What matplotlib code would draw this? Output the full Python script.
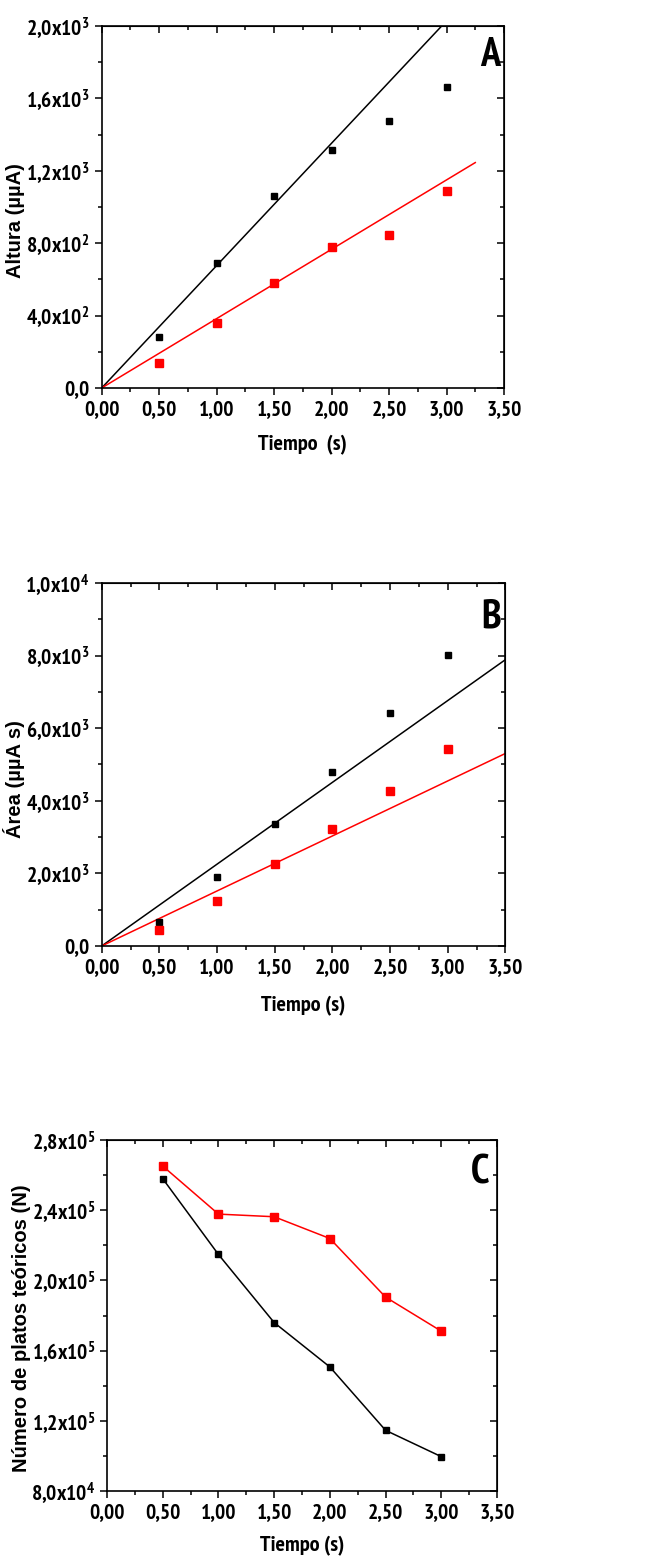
import matplotlib
matplotlib.use("Agg")
import matplotlib.pyplot as plt
from matplotlib.ticker import MultipleLocator

# data
tiempo = [0.5, 1.0, 1.5, 2.0, 2.5, 3.0]

altura_negro = [280, 689, 1059, 1317, 1473, 1661]
altura_rojo = [140, 361, 582, 781, 847, 1090]
altura_fit_x = [0.0, 3.25]
altura_fit_negro = [0.0, 2197]
altura_fit_rojo = [0.0, 1245]

area_negro = [653, 1912, 3373, 4789, 6425, 8005]
area_rojo = [441, 1250, 2261, 3226, 4283, 5432]
area_fit_x = [0.0, 3.5]
area_fit_negro = [0.0, 7886]
area_fit_rojo = [0.0, 5303]

platos_negro = [258000, 214800, 176000, 150700, 114600, 99600]
platos_rojo = [265200, 237800, 236300, 223900, 190500, 171100]

x_ticks = [0.0, 0.5, 1.0, 1.5, 2.0, 2.5, 3.0, 3.5]
x_labels = ["0,00", "0,50", "1,00", "1,50", "2,00", "2,50", "3,00", "3,50"]

yA_ticks = [0, 400, 800, 1200, 1600, 2000]
yA_labels = ["0,0", r"4,0x10$^2$", r"8,0x10$^2$", r"1,2x10$^3$", r"1,6x10$^3$", r"2,0x10$^3$"]
yB_ticks = [0, 2000, 4000, 6000, 8000, 10000]
yB_labels = ["0,0", r"2,0x10$^3$", r"4,0x10$^3$", r"6,0x10$^3$", r"8,0x10$^3$", r"1,0x10$^4$"]
yC_ticks = [80000, 120000, 160000, 200000, 240000, 280000]
yC_labels = [r"8,0x10$^4$", r"1,2x10$^5$", r"1,6x10$^5$", r"2,0x10$^5$", r"2,4x10$^5$", r"2,8x10$^5$"]

NARROW = ["PT Sans Narrow", "Liberation Sans", "DejaVu Sans"]
WIDE = ["Liberation Sans", "DejaVu Sans"]
plt.rcParams["font.family"] = NARROW
plt.rcParams["font.weight"] = "bold"
plt.rcParams["mathtext.fontset"] = "custom"
plt.rcParams["mathtext.rm"] = "PT Sans Narrow"
plt.rcParams["mathtext.default"] = "rm"

RED = "#ff0000"
TICK_FS = 15.5

fig = plt.figure(figsize=(6.65, 15.6), dpi=100)
axA = fig.add_axes([0.1529, 0.7513, 0.605, 0.2321])
axB = fig.add_axes([0.1529, 0.3936, 0.607, 0.2327])
axC = fig.add_axes([0.1609, 0.0442, 0.5865, 0.2250])


def style(ax, yticks, ylabels, ylim, yminor, ylabel, letter, ly, lx, ylx, yly,
          xlabel="Tiempo (s)", xpad=12):
    ax.set_xlim(0, 3.5)
    ax.set_ylim(*ylim)
    ax.set_xticks(x_ticks)
    ax.set_xticklabels(x_labels)
    ax.set_yticks(yticks)
    ax.set_yticklabels(ylabels)
    ax.xaxis.set_minor_locator(MultipleLocator(0.25))
    ax.yaxis.set_minor_locator(MultipleLocator(yminor))
    for s in ax.spines.values():
        s.set_linewidth(1.2)
    ax.tick_params(which="both", direction="out", width=1.1, labelsize=TICK_FS,
                   top=False, right=False)
    ax.tick_params(which="major", length=5)
    ax.tick_params(which="minor", length=3)
    # inward ticks on top/right
    sec = ax.secondary_xaxis("top")
    sec.set_xticks(x_ticks)
    sec.xaxis.set_minor_locator(MultipleLocator(0.25))
    sec.tick_params(which="both", direction="in", width=1.1, labeltop=False)
    sec.tick_params(which="major", length=5)
    sec.tick_params(which="minor", length=3)
    secy = ax.secondary_yaxis("right")
    secy.set_yticks(yticks)
    secy.yaxis.set_minor_locator(MultipleLocator(yminor))
    secy.tick_params(which="both", direction="in", width=1.1, labelright=False)
    secy.tick_params(which="major", length=5)
    secy.tick_params(which="minor", length=3)
    for lab in ax.get_xticklabels() + ax.get_yticklabels():
        lab.set_fontweight("bold")
    ax.set_xlabel(xlabel, fontsize=16, fontweight="bold", labelpad=xpad)
    ax.set_ylabel(ylabel, fontsize=14.5, fontweight="bold", family=WIDE)
    ax.yaxis.set_label_coords(ylx, yly)
    ax.text(lx, ly, letter, transform=ax.transAxes, ha="right", va="center",
            fontsize=29, fontweight="bold")


# A
axA.plot(altura_fit_x, altura_fit_negro, color="black", lw=1.1)
axA.plot(altura_fit_x, altura_fit_rojo, color=RED, lw=1.1)
axA.plot(tiempo, altura_negro, "s", color="black", ms=4.8, ls="none")
axA.plot(tiempo, altura_rojo, "s", color=RED, ms=5.3, ls="none")
style(axA, yA_ticks, yA_labels, (0, 2000), 200, "Altura (µµA)", "A", 0.917, 0.99, -0.19, 0.461,
      xlabel="Tiempo  (s)", xpad=12)

# B
axB.plot(area_fit_x, area_fit_negro, color="black", lw=1.1)
axB.plot(area_fit_x, area_fit_rojo, color=RED, lw=1.1)
axB.plot(tiempo, area_negro, "s", color="black", ms=4.8, ls="none")
axB.plot(tiempo, area_rojo, "s", color=RED, ms=5.3, ls="none")
style(axB, yB_ticks, yB_labels, (0, 10000), 1000, "Área (µµA s)", "B", 0.906, 0.99, -0.19, 0.46,
      xpad=14)

# C
axC.plot(tiempo, platos_negro, "-s", color="black", ms=4.8, lw=1.1)
axC.plot(tiempo, platos_rojo, "-s", color=RED, ms=5.3, lw=1.1)
style(axC, yC_ticks, yC_labels, (80000, 280000), 20000, "Número de platos teóricos (N)", "C",
      0.906, 0.98, -0.195, 0.464, xpad=10)

fig.savefig("out.png", dpi=100)
